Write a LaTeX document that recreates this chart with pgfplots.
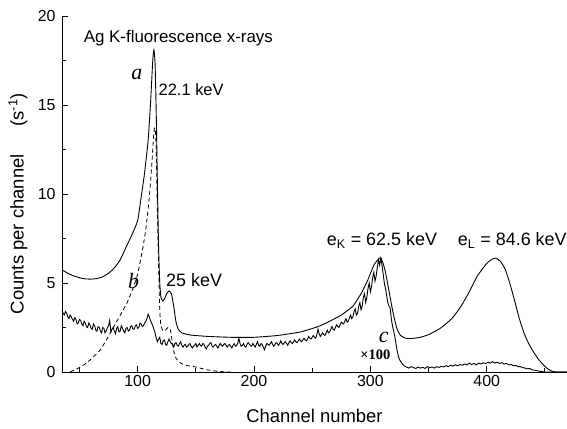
\documentclass[border=0pt]{standalone}
\usepackage{fontspec}
\setmainfont{Liberation Sans}
\newfontfamily\serif{Liberation Serif}
\usepackage{pgfplots}
\pgfplotsset{compat=1.18}
\begin{document}
\begin{tikzpicture}[x=1bp,y=1bp]
\path[use as bounding box] (0,0) rectangle (567,428);
\begin{axis}[
  at={(62bp,56bp)}, anchor=south west,
  scale only axis, width=505bp, height=356bp,
  xmin=35, xmax=469, ymin=0, ymax=20,
  axis x line=bottom, axis y line=left,
  axis line style={-, line width=0.9pt},
  tick align=inside,
  xtick={100,200,300,400}, minor xtick={50,150,250,350,450},
  ytick={0,5,10,15,20}, minor ytick={2.5,7.5,12.5,17.5},
  major tick length=6bp, minor tick length=4bp,
  every tick/.style={black, line width=0.9pt},
  tick label style={font=\fontsize{16}{18}\selectfont},
  yticklabel style={xshift=-3bp},
  /pgf/number format/assume math mode=true,
  xlabel={Channel number},
  ylabel={Counts per channel\hspace{1.5em}(s\textsuperscript{-1})},
  every axis y label/.style={at={(axis description cs:-0.0871,0.473)}, rotate=90, anchor=center, font=\fontsize{18.5}{20}\selectfont},
  every axis x label/.style={at={(axis description cs:0.5,-0.143)}, anchor=base, inner sep=0pt, font=\fontsize{18.5}{20}\selectfont},
  clip=false,
]
% curve a
\addplot[black, line width=0.9pt, mark=none, smooth, tension=0.3] coordinates {
(36,5.7) (40,5.55) (45,5.4) (50,5.3) (55,5.23) (60,5.22) (65,5.25) (70,5.35) (75,5.55) (80,5.85)
(85,6.3) (90,7.0) (95,7.7) (100,8.5) (103,9.8) (106,11.2) (109,13.0) (111,15.0) (113,17.5) (114,18.1)
(115,17.3) (116,14.5) (117,10.5) (118,7.0) (119,5.0) (120,4.2) (121.5,4.0) (123,4.1) (125,4.4) (127,4.55)
(129,4.4) (131,3.7) (133,2.8) (135,2.4) (138,2.2) (145,2.08) (160,2.0) (180,1.95) (200,1.95) (220,2.05)
(240,2.25) (255,2.55) (265,2.85) (275,3.2) (285,3.7) (292,4.4) (298,5.2) (303,6.0) (307,6.35) (309,6.4)
(311,6.1) (313,5.6) (315,4.9) (317,4.2) (319,3.5) (321,2.9) (323,2.4) (326,2.05) (330,1.9) (335,1.88)
(343,1.95) (350,2.1) (360,2.45) (370,3.0) (378,3.7) (385,4.5) (392,5.4) (400,6.1) (405,6.35) (408,6.4)
(412,6.2) (416,5.75) (420,4.95) (424,4.0) (428,3.0) (432,2.2) (436,1.6) (440,1.15) (444,0.75) (448,0.45)
(452,0.2) (456,0.05) (460,0.0) (469,0.0)
};
% curve b (dashed)
\addplot[black, line width=0.8pt, mark=none, dash pattern=on 4bp off 3bp, smooth, tension=0.3] coordinates {
(42,0.0) (50,0.25) (56,0.5) (62,0.85) (68,1.25) (74,1.9) (80,2.6) (86,3.3) (91,3.9) (96,4.7)
(100,5.5) (104,6.8) (107,8.0) (110,9.8) (112,11.5) (114,13.5) (115,13.7) (116,12.5) (117,9.0) (118,6.0)
(119,3.5) (120,2.6) (122,2.3) (124,2.35) (126,2.5) (128,2.4) (130,1.6) (132,0.9) (135,0.6) (140,0.4)
(150,0.28) (160,0.12) (170,0.03) (180,0.0)
};
% curve c (noisy, x100)
\addplot[black, line width=0.9pt, mark=none, sharp plot] coordinates {
(35,3.45) (36,3.3) (37,3.2) (38,3.4) (39,3.3) (40,3.1) (41,3.0) (42,3.2) (43,3.1) (44,2.95) (45,2.85) (46,3.05) (47,2.95) (48,2.7) (49,2.75) (50,2.95) (51,2.9) (52,2.7) (53,2.6)
(54,2.85) (55,2.75) (56,2.55) (57,2.5) (58,2.75) (59,2.65) (60,2.45) (61,2.4) (62,2.7) (63,2.6) (64,2.35) (65,2.3) (66,2.55) (67,2.5) (68,2.3) (69,2.2) (70,2.5) (71,2.45) (72,2.2) (73,2.3)
(74,2.5) (75,2.6) (76,2.9) (77,2.25) (78,2.4) (79,2.5) (80,2.3) (81,2.15) (82,2.45) (83,2.55) (84,2.25) (85,2.3) (86,2.6) (87,2.45) (88,2.3) (89,2.2) (90,2.45) (91,2.5) (92,2.3) (93,2.35)
(94,2.55) (95,2.6) (96,2.4) (97,2.4) (98,2.6) (99,2.65) (100,2.45) (101,2.5) (102,2.75) (103,2.7) (104,2.55) (105,2.6) (106,2.75) (107,2.85) (108,3.0) (109,3.25) (110,3.1) (111,2.9) (112,2.75) (113,2.6)
(114,2.4) (115,2.2) (116,1.9) (117,1.7) (118,1.85) (119,1.95) (120,1.6) (121,1.55) (122,1.75) (123,1.8) (124,1.55) (125,1.5) (126,1.7) (127,1.85) (128,1.7) (129,1.6) (130,1.55) (131,1.4) (132,1.6) (133,1.65)
(134,1.5) (135,1.45) (136,1.6) (137,1.7) (138,1.5) (139,1.4) (140,1.5) (141,1.55) (142,1.4) (143,1.45) (144,1.55) (145,1.6) (146,1.45) (147,1.35) (148,1.45) (149,1.5) (150,1.6) (151,1.4) (152,1.5) (153,1.6)
(154,1.5) (155,1.45) (156,1.6) (157,1.55) (158,1.4) (159,1.3) (160,1.45) (161,1.5) (162,1.6) (163,1.65) (164,1.45) (165,1.4) (166,1.5) (167,1.55) (168,1.45) (169,1.35) (170,1.5) (171,1.6) (172,1.5) (173,1.45)
(174,1.55) (175,1.6) (176,1.5) (177,1.4) (178,1.5) (179,1.55) (180,1.45) (181,1.35) (182,1.5) (183,1.6) (184,1.45) (185,1.5) (186,1.6) (187,1.9) (188,1.6) (189,1.45) (190,1.5) (191,1.6) (192,1.45) (193,1.4)
(194,1.55) (195,1.65) (196,1.55) (197,1.5) (198,1.45) (199,1.6) (200,1.5) (201,1.4) (202,1.55) (203,1.7) (204,1.5) (205,1.45) (206,1.6) (207,1.55) (208,1.4) (209,1.25) (210,1.45) (211,1.6) (212,1.55) (213,1.5)
(214,1.6) (215,1.7) (216,1.55) (217,1.45) (218,1.55) (219,1.65) (220,1.6) (221,1.5) (222,1.6) (223,1.75) (224,1.6) (225,1.55) (226,1.65) (227,1.7) (228,1.6) (229,1.5) (230,1.65) (231,1.75) (232,1.65) (233,1.6)
(234,1.7) (235,1.8) (236,1.7) (237,1.65) (238,1.75) (239,1.85) (240,1.75) (241,1.7) (242,1.8) (243,1.9) (244,1.8) (245,1.75) (246,1.85) (247,2.0) (248,1.9) (249,1.85) (250,1.95) (251,2.05) (252,1.95) (253,1.9)
(254,2.1) (255,2.4) (256,2.15) (257,2.0) (258,2.1) (259,2.2) (260,2.1) (261,2.05) (262,2.2) (263,2.35) (264,2.2) (265,2.25) (266,2.4) (267,2.55) (268,2.4) (269,2.35) (270,2.5) (271,2.65) (272,2.55) (273,2.5)
(274,2.65) (275,2.8) (276,2.75) (277,2.7) (278,2.85) (279,3.0) (280,2.8) (281,2.85) (282,3.05) (283,3.2) (284,3.0) (285,3.1) (286,3.4) (287,3.55) (288,3.2) (289,3.3) (290,3.7) (291,3.9) (292,3.5) (293,3.7)
(294,4.2) (295,4.4) (296,3.9) (297,4.2) (298,4.7) (299,5.0) (300,4.5) (301,4.8) (302,5.3) (303,5.6) (304,5.1) (305,5.4) (306,5.9) (307,6.3) (308,6.0) (309,6.4) (310,6.0)
(311,5.5) (312,5.0) (313,4.7) (314,4.3) (315,3.9) (316,3.7) (317,3.6) (318,3.0) (319,2.6) (320,2.3)
(321,2.0) (322,1.6) (323,1.2) (324,0.9) (325,0.7) (327,0.5) (329,0.35) (331,0.28) (333,0.22) (335,0.3)
(337,0.25) (339,0.2) (341,0.28) (343,0.22) (345,0.26) (347,0.2) (349,0.3) (351,0.25) (353,0.28) (355,0.22)
(357,0.3) (359,0.26) (361,0.32) (363,0.28) (365,0.36) (367,0.3) (369,0.38) (371,0.33) (373,0.4) (375,0.35)
(377,0.42) (379,0.38) (381,0.45) (383,0.4) (385,0.5) (387,0.42) (389,0.48) (391,0.4) (393,0.5) (395,0.45)
(397,0.52) (399,0.47) (401,0.55) (403,0.5) (405,0.58) (407,0.5) (409,0.55) (411,0.48) (413,0.52) (415,0.45)
(417,0.48) (419,0.4) (421,0.42) (423,0.35) (425,0.37) (427,0.3) (429,0.3) (431,0.25) (433,0.22) (435,0.18)
(437,0.2) (439,0.12) (441,0.1) (443,0.08) (445,0.05) (447,0.03) (450,0.0) (469,0.0)
};
% annotations
\node[font=\fontsize{17}{19}\selectfont] at (axis cs:135,18.76) {Ag K-fluorescence x-rays};
\node[font=\serif\itshape\fontsize{22}{24}\selectfont] at (axis cs:99.4,16.7) {a};
\node[font=\fontsize{16.5}{18}\selectfont] at (axis cs:146,15.84) {22.1 keV};
\node[font=\fontsize{18}{20}\selectfont] at (axis cs:148.5,5.17) {25 keV};
\node[font=\serif\itshape\fontsize{22}{24}\selectfont] at (axis cs:96.5,5.1) {b};
\node[font=\serif\itshape\fontsize{22}{24}\selectfont] at (axis cs:311.5,1.95) {c};
\node[font=\serif\bfseries\fontsize{14.5}{16}\selectfont] at (axis cs:304.3,0.95) {×100};
\node[font=\fontsize{18}{20}\selectfont] at (axis cs:310,7.4) {e\textsubscript{K} = 62.5 keV};
\node[font=\fontsize{18}{20}\selectfont] at (axis cs:422,7.4) {e\textsubscript{L} = 84.6 keV};
\end{axis}
\end{tikzpicture}
\end{document}
